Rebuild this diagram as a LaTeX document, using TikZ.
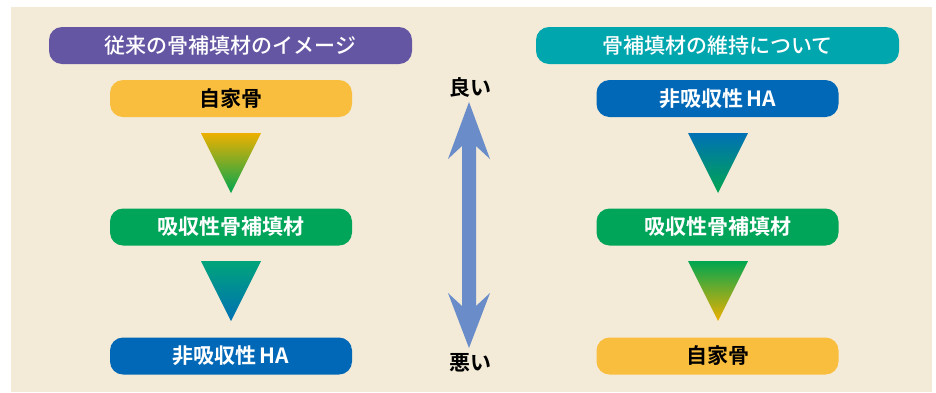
\documentclass[tikz,border=0pt]{standalone}
\usepackage{fontspec}
\setmainfont{Noto Sans CJK JP}[BoldFont={Noto Sans CJK JP Bold}]
\newfontfamily\jpmedium{Noto Sans CJK JP Medium}
\definecolor{bgpaper}{HTML}{F3EBD7}
\definecolor{hdpurple}{HTML}{6556A3}
\definecolor{hdteal}{HTML}{00A6AD}
\definecolor{bxorange}{HTML}{F9BE3E}
\definecolor{bxgreen}{HTML}{00A559}
\definecolor{bxblue}{HTML}{0068B7}
\definecolor{trorange}{HTML}{EEB000}
\definecolor{trgreen}{HTML}{00A650}
\definecolor{trteal}{HTML}{00A47A}
\definecolor{trblue}{HTML}{0070B5}
\definecolor{arrblue}{HTML}{6A8DCA}
\tikzset{
  x=1pt, y=-1pt,
  header/.style={rounded corners=13pt, minimum width=363pt, minimum height=37pt, inner sep=0pt,
    text=white, font=\fontsize{21}{24}\selectfont\jpmedium},
  item/.style={rounded corners=13pt, minimum width=242pt, minimum height=37pt, inner sep=0pt,
    font=\fontsize{21}{24}\selectfont\bfseries},
  label/.style={inner sep=0pt, font=\fontsize{21}{24}\selectfont\bfseries},
}
\begin{document}
\begin{tikzpicture}
\useasboundingbox (0,0) rectangle (936,392);
\fill[white] (0,0) rectangle (936,392);
\fill[bgpaper] (11,7) rectangle (932,392);

% headers
\node[header, fill=hdpurple] (hl) at (230.5,45.5) {従来の骨補填材のイメージ};
\node[header, fill=hdteal] (hr) at (717.5,45.5) {骨補填材の維持について};

% left column
\node[item, fill=bxorange, text=black] (l1) at (231,98.5) {自家骨};
\node[item, fill=bxgreen, text=white] (l2) at (231,227) {吸収性骨補填材};
\node[item, fill=bxblue, text=white] (l3) at (231,356) {非吸収性\hspace{3pt}HA};

% right column
\node[item, fill=bxblue, text=white] (r1) at (717.5,98.5) {非吸収性\hspace{3pt}HA};
\node[item, fill=bxgreen, text=white] (r2) at (717.5,227) {吸収性骨補填材};
\node[item, fill=bxorange, text=black] (r3) at (717.5,356) {自家骨};

% gradient triangles
\shade[top color=trorange, bottom color=trgreen] (201,133) -- (261,133) -- (231,193) -- cycle;
\shade[top color=trteal, bottom color=trblue] (201,261) -- (261,261) -- (231,321) -- cycle;
\shade[top color=trblue, bottom color=trgreen] (688,133) -- (748,133) -- (718,193) -- cycle;
\shade[top color=trgreen, bottom color=trorange] (688,261) -- (748,261) -- (718,321) -- cycle;

% middle double arrow
\fill[arrblue] (469,102) -- (490,159) -- (476,146) -- (476,306) -- (490,293) -- (469,348)
  -- (448,293) -- (462,306) -- (462,146) -- (448,159) -- cycle;
\node[label] (good) at (470,88) {良い};
\node[label] (bad) at (470,363) {悪い};
\end{tikzpicture}
\end{document}
